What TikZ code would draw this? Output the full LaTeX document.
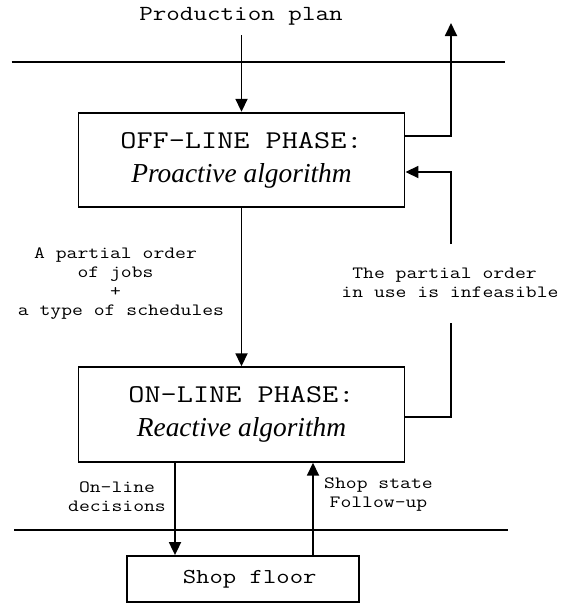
\documentclass[tikz,border=0pt]{standalone}
\usepackage{fontspec}
\setmainfont{Liberation Serif}
\newfontfamily\cour[FakeStretch=1.225]{Latin Modern Mono}
\usetikzlibrary{arrows.meta}
\begin{document}
\begin{tikzpicture}[x=1pt,y=-1pt,
  ln/.style={line width=1.8pt},
  arr/.style={ln,-{Triangle[length=13pt,width=12pt]}},
  phase/.style={draw,line width=1.9pt,minimum width=326pt,minimum height=94.5pt,inner sep=0pt,align=center,font=\fontsize{27.4}{34}\selectfont},
  lbl/.style={align=center,font=\cour\fontsize{17.2}{19}\selectfont,inner sep=0pt},
  shopbox/.style={draw,line width=1.8pt,minimum width=232pt,minimum height=46pt,inner sep=0pt,font=\cour\fontsize{21.2}{23}\selectfont}
]
\useasboundingbox (0,0) rectangle (564,603);
% top
\node[font=\cour\fontsize{21.5}{23}\selectfont,inner sep=0pt] (pp) at (241,16) {Production plan};
\coordinate (ppend) at (241.5,35);
\draw[ln] (11.5,62) -- (505,62);
% phases
\node[phase] (off) at (241.5,160) {{\cour\fontsize{25.6}{34}\selectfont OFF-LINE PHASE:}\\{\itshape Proactive algorithm}};
\node[phase] (on) at (241.5,414.5) {{\cour\fontsize{25.6}{34}\selectfont ON-LINE PHASE:}\\{\itshape Reactive algorithm}};
\draw[arr] (ppend) -- (off.north);
\draw[arr] (off.south) -- (on.north);
% feedback loop
\coordinate (outtop) at (451,23);
\coordinate (fbtop) at (451,244);
\coordinate (fbbot) at (451,323);
\draw[arr] ([yshift=24pt]off.east) -| (outtop);
\draw[arr] (fbtop) |- ([yshift=-12pt]off.east);
\draw[ln] ([yshift=-2.5pt]on.east) -| (fbbot);
\node[lbl] (inf) at (450,282.5) {The partial order\hphantom{x}\\in use is infeasible};
\node[lbl] (po) at (121,283.5) {A partial order\hphantom{x}\\of jobs\hphantom{x}\\+\hphantom{x}\\a type of schedules};
% bottom
\draw[ln] (14,530) -- (508,530);
\node[shopbox] (shop) at (243,579) {\hphantom{x}Shop floor};
\coordinate (dx) at (175,0);
\coordinate (ux) at (313,0);
\draw[arr] (on.south -| dx) -- (shop.north -| dx);
\draw[arr] (shop.north -| ux) -- (on.south -| ux);
\node[lbl] (old) at (117,496.5) {On-line\\decisions};
\node[lbl] (ssf) at (378.5,494.5) {Shop state\\Follow-up};
\end{tikzpicture}
\end{document}
